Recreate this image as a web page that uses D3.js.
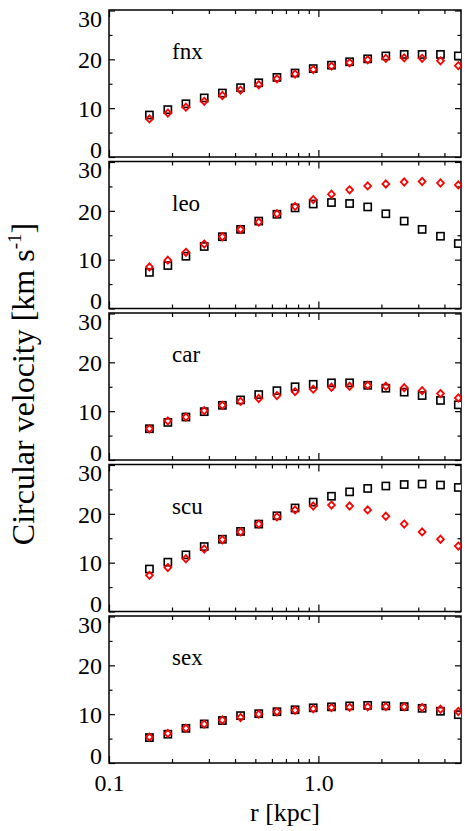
<!DOCTYPE html>
<html>
<head>
<meta charset="utf-8">
<script src="https://cdn.jsdelivr.net/npm/d3@7"></script>
<style>
body{margin:0;background:#fff;}
.axis line{stroke:#000;stroke-width:1.2;}
.axis path{display:none;}
</style>
</head>
<body>
<div id="display"></div>
<script>
// radii of the bins [kpc]
const radius = [0.156, 0.191, 0.233, 0.285, 0.348, 0.425, 0.519, 0.634, 0.774, 0.945,
                1.155, 1.41, 1.72, 2.10, 2.57, 3.13, 3.83, 4.66];

const galaxies = ["fnx", "leo", "car", "scu", "sex"];

// black squares / red diamonds, km/s
const fnx_black = [8.6, 9.7, 10.9, 12.1, 13.1, 14.2, 15.2, 16.3, 17.2, 18.1, 18.8, 19.5, 20.1, 20.7, 21.0, 21.0, 21.0, 20.7];
const fnx_red   = [7.8, 9.0, 10.2, 11.4, 12.6, 13.7, 14.8, 16.0, 17.0, 17.9, 18.6, 19.3, 19.9, 20.2, 20.3, 20.2, 19.7, 18.7];
const leo_black = [7.4, 8.8, 10.7, 12.7, 14.7, 16.2, 17.9, 19.3, 20.6, 21.4, 21.7, 21.5, 20.8, 19.4, 17.9, 16.2, 14.8, 13.3];
const leo_red   = [8.5, 9.9, 11.5, 13.2, 14.7, 16.2, 17.7, 19.4, 20.9, 22.3, 23.4, 24.3, 25.1, 25.5, 25.9, 26.0, 25.7, 25.3];
const car_black = [6.4, 7.7, 8.8, 9.9, 11.2, 12.3, 13.4, 14.2, 15.0, 15.5, 15.8, 15.8, 15.3, 14.7, 13.9, 13.2, 12.2, 11.3];
const car_red   = [6.4, 8.0, 8.8, 10.1, 11.2, 12.0, 12.6, 13.2, 14.0, 14.5, 14.9, 15.1, 15.3, 15.1, 14.8, 14.2, 13.6, 12.7];
const scu_black = [8.7, 10.1, 11.6, 13.3, 14.8, 16.4, 17.9, 19.6, 21.2, 22.4, 23.6, 24.5, 25.2, 25.7, 26.0, 26.1, 25.9, 25.4];
const scu_red   = [7.4, 9.0, 10.8, 12.8, 14.7, 16.3, 17.9, 19.4, 20.8, 21.6, 21.8, 21.6, 20.8, 19.5, 17.9, 16.3, 14.8, 13.4];
const sex_black = [5.2, 5.9, 7.1, 8.0, 8.7, 9.7, 10.1, 10.5, 10.9, 11.3, 11.5, 11.7, 11.8, 11.7, 11.55, 11.2, 10.6, 9.9];
const sex_red   = [5.3, 6.05, 7.1, 7.95, 8.8, 9.3, 10.0, 10.5, 10.8, 11.1, 11.35, 11.4, 11.5, 11.55, 11.5, 11.35, 11.0, 10.55];

const y_ticks = [0, 10, 20, 30];
const y_minor = [5, 15, 25];
const x_ticks = [0.1, 1.0];
const x_tick_labels = ["0.1", "1.0"];
const x_minor = [0.2, 0.3, 0.4, 0.5, 0.6, 0.7, 0.8, 0.9, 2, 3, 4];

const series = {
    fnx: [fnx_black, fnx_red], leo: [leo_black, leo_red], car: [car_black, car_red],
    scu: [scu_black, scu_red], sex: [sex_black, sex_red]
};

const FONT = "Liberation Serif";
const width = 465, height = 831;
const left = 109, right = 461;
const panel_top = 10, panel_h = 147, panel_step = 151.5;

const svg = d3.select("#display").append("svg")
    .attr("width", width).attr("height", height);

const x_scale = d3.scaleLog().domain([0.1, 4.8]).range([left, right]);

function serif(sel, size) {
    sel.attr("font-family", FONT).style("font-family", `'${FONT}'`).style("font-size", size + "px");
}

galaxies.forEach((name, i) => {
    const top = panel_top + i * panel_step;
    const bottom = top + panel_h;
    const y_scale = d3.scaleLinear().domain([0, 30]).range([bottom, top + 0.5]);
    const g = svg.append("g");

    g.append("clipPath").attr("id", "clip" + i)
        .append("rect").attr("x", left).attr("y", top).attr("width", right - left).attr("height", panel_h);

    // y axes
    const gy = g.append("g").attr("class", "axis").attr("transform", `translate(${left},0)`)
        .call(d3.axisLeft(y_scale).tickValues(y_ticks).tickSizeInner(-6).tickSizeOuter(0).tickPadding(7).tickFormat(d3.format("d")));
    gy.attr("font-family", FONT);
    gy.selectAll("text").call(serif, 24)
        .attr("dy", (d) => d === 30 ? "0.66em" : d === 0 ? "0.0em" : "0.34em");
    g.append("g").attr("class", "axis").attr("transform", `translate(${left},0)`)
        .call(d3.axisLeft(y_scale).tickValues(y_minor).tickSizeInner(-3.5).tickSizeOuter(0).tickFormat(""));
    g.append("g").attr("class", "axis").attr("transform", `translate(${right},0)`)
        .call(d3.axisRight(y_scale).tickValues(y_ticks).tickSizeInner(-6).tickSizeOuter(0).tickFormat(""));
    g.append("g").attr("class", "axis").attr("transform", `translate(${right},0)`)
        .call(d3.axisRight(y_scale).tickValues(y_minor).tickSizeInner(-3.5).tickSizeOuter(0).tickFormat(""));

    // x axes
    const last = i === galaxies.length - 1;
    const gx = g.append("g").attr("class", "axis").attr("transform", `translate(0,${bottom})`)
        .call(d3.axisBottom(x_scale).tickValues(x_ticks).tickSizeInner(-7).tickSizeOuter(0).tickPadding(11)
            .tickFormat((d, k) => last ? x_tick_labels[k] : ""));
    gx.attr("font-family", FONT);
    gx.selectAll("text").call(serif, 24);
    g.append("g").attr("class", "axis").attr("transform", `translate(0,${bottom})`)
        .call(d3.axisBottom(x_scale).tickValues(x_minor).tickSizeInner(-4).tickSizeOuter(0).tickFormat(""));
    g.append("g").attr("class", "axis").attr("transform", `translate(0,${top})`)
        .call(d3.axisTop(x_scale).tickValues(x_ticks).tickSizeInner(-7).tickSizeOuter(0).tickFormat(""));
    g.append("g").attr("class", "axis").attr("transform", `translate(0,${top})`)
        .call(d3.axisTop(x_scale).tickValues(x_minor).tickSizeInner(-4).tickSizeOuter(0).tickFormat(""));

    // frame
    g.append("rect").attr("x", left).attr("y", top).attr("width", right - left).attr("height", panel_h)
        .attr("fill", "none").attr("stroke", "#000").attr("stroke-width", 1.5);

    // panel name, placed at r=0.2, v=20
    g.append("text").attr("x", x_scale(0.2)).attr("y", y_scale(20))
        .call(serif, 23).text(name);

    const pts = g.append("g").attr("clip-path", `url(#clip${i})`);
    const black = series[name][0], red = series[name][1];

    pts.selectAll("rect.sq").data(radius).enter().append("rect").attr("class", "sq")
        .attr("x", (d) => x_scale(d) - 3.6).attr("y", (d, k) => y_scale(black[k]) - 3.6)
        .attr("width", 7.2).attr("height", 7.2)
        .attr("fill", "#fff").attr("stroke", "#000").attr("stroke-width", 1.6);

    pts.selectAll("path.dm").data(radius).enter().append("path").attr("class", "dm")
        .attr("d", (d, k) => {
            const cx = x_scale(d), cy = y_scale(red[k]);
            return `M${cx},${cy - 3.6}L${cx + 3.4},${cy}L${cx},${cy + 3.6}L${cx - 3.4},${cy}Z`;
        })
        .attr("fill", "none").attr("stroke", "#f00").attr("stroke-width", 1.8);
});

// axis titles
svg.append("text").attr("x", (left + right) / 2).attr("y", 821)
    .attr("text-anchor", "middle").call(serif, 26).text("r [kpc]");

const yl = svg.append("text")
    .attr("transform", "translate(34,384) rotate(-90)")
    .attr("text-anchor", "middle").call(serif, 32);
yl.append("tspan").text("Circular velocity [km s");
yl.append("tspan").style("font-size", "19px").attr("dy", -13).text("-1");
yl.append("tspan").attr("dy", 13).text("]");
</script>
</body>
</html>
